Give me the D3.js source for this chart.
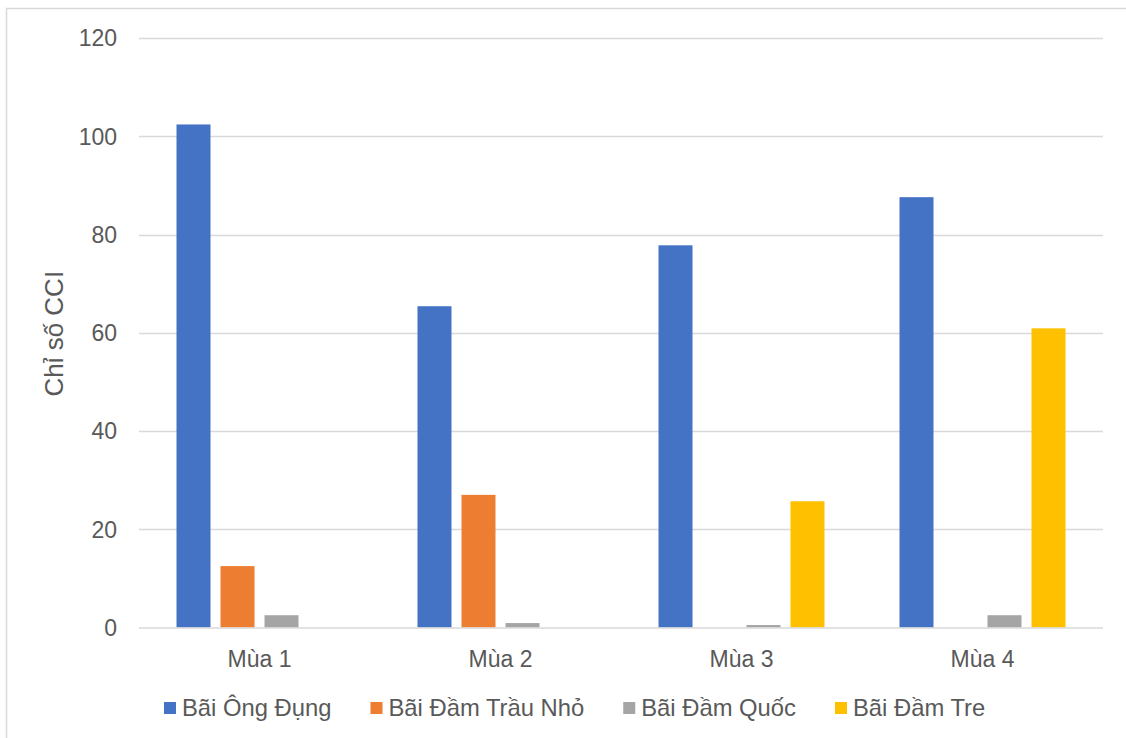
<!DOCTYPE html>
<html>
<head>
<meta charset="utf-8">
<script src="https://cdn.jsdelivr.net/npm/d3@7"></script>
<style>
  html, body { margin: 0; padding: 0; background: #fff; }
  svg { display: block; font-family: "Liberation Sans", Arial, sans-serif; }
</style>
</head>
<body>
<svg id="chart" width="1126" height="738"></svg>
<script>
// Chỉ số CCI theo mùa tại các bãi
const categories = ["Mùa 1", "Mùa 2", "Mùa 3", "Mùa 4"];
const seriesNames = ["Bãi Ông Đụng", "Bãi Đầm Trầu Nhỏ", "Bãi Đầm Quốc", "Bãi Đầm Tre"];
const baiOngDung   = [102.4, 65.4, 77.8, 87.6];
const baiDamTrauNho = [12.5, 27.0, 0, 0];
const baiDamQuoc   = [2.5, 0.9, 0.5, 2.5];
const baiDamTre    = [0, 0, 25.7, 60.9];
const seriesValues = [baiOngDung, baiDamTrauNho, baiDamQuoc, baiDamTre];
const seriesColors = ["#4472C4", "#ED7D31", "#A5A5A5", "#FFC000"];
const yTicks = [0, 20, 40, 60, 80, 100, 120];
const yTitle = "Chỉ số CCI";

const svg = d3.select("#chart");
const textColor = "#595959";
const gridColor = "#D9D9D9";

// chart frame
svg.append("rect")
  .attr("x", 6.5).attr("y", 8.5)
  .attr("width", 1140).attr("height", 760)
  .attr("fill", "none").attr("stroke", gridColor).attr("stroke-width", 1.5);

const plot = { left: 139, right: 1103, top: 38, bottom: 627.5 };

const y = d3.scaleLinear().domain([0, 120]).range([plot.bottom, plot.top]);
const x0 = d3.scaleBand().domain(categories).range([plot.left, plot.right]);
const cw = x0.bandwidth();
const x1 = d3.scaleBand().domain(seriesNames)
  .range([cw * 0.1556, cw * 0.8444]).paddingInner(10 / 44);

// gridlines
svg.append("g").selectAll("line")
  .data(yTicks.filter(d => d > 0))
  .join("line")
  .attr("x1", plot.left).attr("x2", plot.right)
  .attr("y1", d => Math.round(y(d)) + 0.5).attr("y2", d => Math.round(y(d)) + 0.5)
  .attr("stroke", gridColor).attr("stroke-width", 1.3);

// y tick labels
svg.append("g").selectAll("text")
  .data(yTicks)
  .join("text")
  .attr("x", 117).attr("y", d => y(d))
  .attr("dy", "0.36em")
  .attr("text-anchor", "end")
  .attr("font-size", 23)
  .attr("fill", textColor)
  .text(d => d);

// bars
const rows = categories.map((c, i) => ({
  cat: c,
  vals: seriesNames.map((s, j) => ({ s, j, v: seriesValues[j][i] }))
}));

svg.append("g").selectAll("g")
  .data(rows)
  .join("g")
  .attr("transform", d => `translate(${x0(d.cat)},0)`)
  .selectAll("rect")
  .data(d => d.vals.filter(e => e.v > 0))
  .join("rect")
  .attr("x", d => x1(d.s))
  .attr("width", x1.bandwidth())
  .attr("y", d => y(d.v))
  .attr("height", d => y(0) - y(d.v))
  .attr("fill", d => seriesColors[d.j]);

// category axis line
svg.append("line")
  .attr("x1", plot.left).attr("x2", plot.right)
  .attr("y1", plot.bottom + 0.5).attr("y2", plot.bottom + 0.5)
  .attr("stroke", gridColor).attr("stroke-width", 1.5);

// category labels
svg.append("g").selectAll("text")
  .data(categories)
  .join("text")
  .attr("x", d => x0(d) + cw / 2)
  .attr("y", 666.5)
  .attr("text-anchor", "middle")
  .attr("font-size", 23)
  .attr("fill", textColor)
  .text(d => d);

// y axis title
svg.append("text")
  .attr("transform", `translate(63,${(plot.top + plot.bottom) / 2 + 1}) rotate(-90)`)
  .attr("text-anchor", "middle")
  .attr("font-size", 26)
  .attr("fill", textColor)
  .text(yTitle);

// legend
const legend = svg.append("g");
let lx = 164;
seriesNames.forEach((name, j) => {
  legend.append("rect")
    .attr("x", lx).attr("y", 702)
    .attr("width", 12).attr("height", 12)
    .attr("fill", seriesColors[j]);
  const t = legend.append("text")
    .attr("x", lx + 18).attr("y", 716)
    .attr("font-size", 23.8)
    .attr("fill", textColor)
    .text(name);
  lx += 18 + t.node().getComputedTextLength() + 39;
});
</script>
</body>
</html>
